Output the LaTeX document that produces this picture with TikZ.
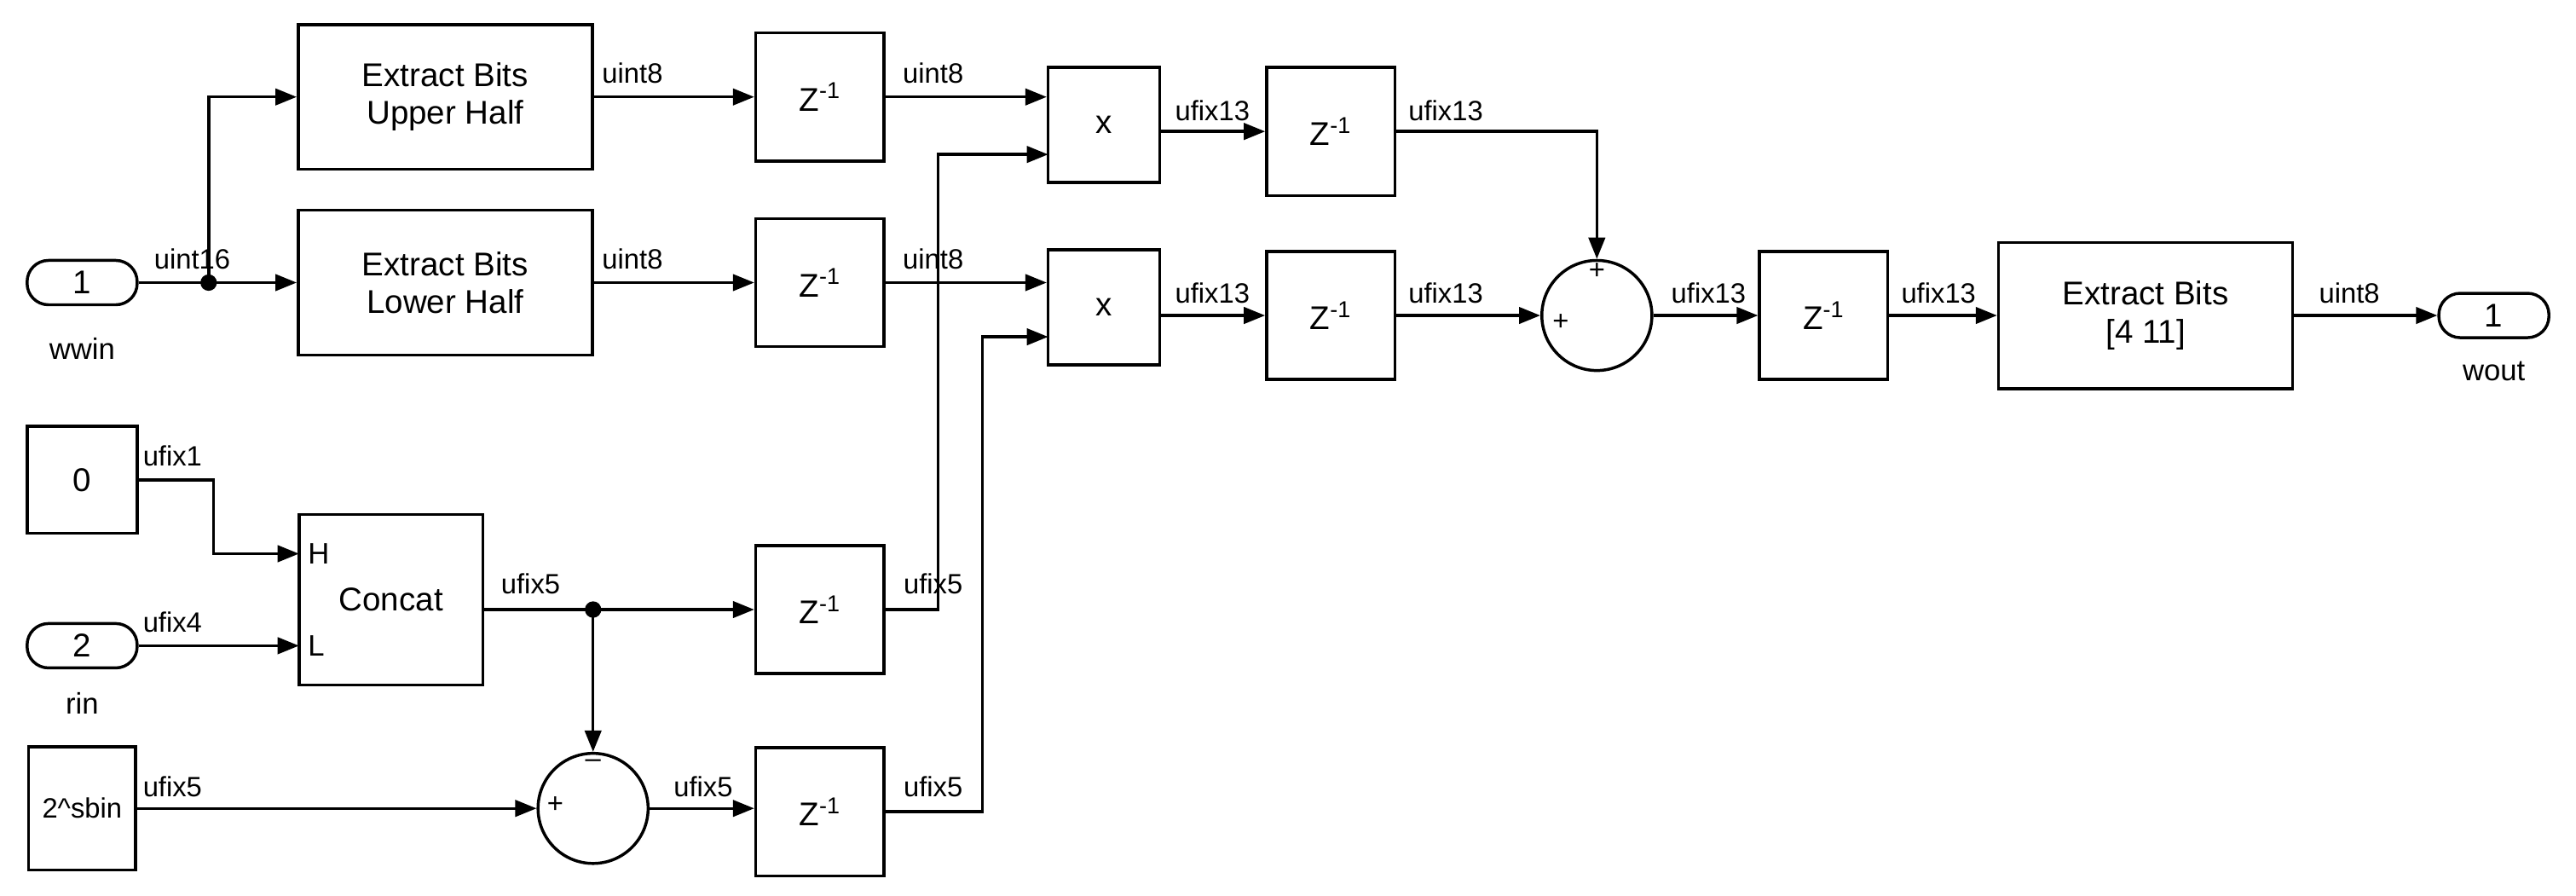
\documentclass[tikz,border=0pt]{standalone}
\usepackage{fontspec}
\setmainfont{Liberation Sans}
\usetikzlibrary{arrows.meta,positioning}

\begin{document}
\begin{tikzpicture}[x=1pt,y=-1pt,
blk/.style={rectangle, draw, line width=1.8pt, font=\fontsize{20}{23}\selectfont, align=center, inner sep=0pt},
port/.style={rectangle, rounded corners=13pt, draw, line width=1.8pt, minimum width=67pt, minimum height=27pt, font=\fontsize{20}{23}\selectfont, inner sep=0pt},
circ/.style={circle, draw, line width=1.8pt, minimum size=67pt, inner sep=0pt},
sig/.style={font=\fontsize{17}{19}\selectfont, inner sep=1pt, anchor=south},
wire/.style={line width=1.8pt, -{Triangle[length=13pt,width=10pt]}},
]
\useasboundingbox (0,0) rectangle (1568,545);
\tikzset{zbox/.style={blk, minimum width=78pt, minimum height=78pt}}
%Nodes
\node[port](wwin) at (50,172){1};
\node[font=\fontsize{18}{20}\selectfont] at (50,212){wwin};
\node[blk, minimum width=179pt, minimum height=88pt](upper) at (271,59){Extract Bits\\Upper Half};
\node[blk, minimum width=179pt, minimum height=88pt](lower) at (271,172){Extract Bits\\Lower Half};
\node[zbox](z1) at (499,59){Z\textsuperscript{-1}};
\node[zbox](z2) at (499,172){Z\textsuperscript{-1}};
\node[zbox](z3) at (499,371){Z\textsuperscript{-1}};
\node[zbox](z4) at (499,494){Z\textsuperscript{-1}};
\node[blk, minimum width=68pt, minimum height=70pt](m1) at (672,76){x};
\node[blk, minimum width=68pt, minimum height=70pt](m2) at (672,187){x};
\node[zbox](z5) at (810,80){Z\textsuperscript{-1}};
\node[zbox](z6) at (810,192){Z\textsuperscript{-1}};
\node[circ](sum) at (972,192){};
\node[font=\fontsize{17}{19}\selectfont] at (972,165){+};
\node[font=\fontsize{17}{19}\selectfont] at (950,196){+};
\node[zbox](z7) at (1110,192){Z\textsuperscript{-1}};
\node[blk, minimum width=179pt, minimum height=89pt](ext) at (1306,192){Extract Bits\\{}[4 11]};
\node[port](wout) at (1518,192){1};
\node[font=\fontsize{18}{20}\selectfont] at (1518,226){wout};
\node[blk, minimum width=67pt, minimum height=65pt](zero) at (50,292){0};
\node[port](rin) at (50,393){2};
\node[font=\fontsize{18}{20}\selectfont] at (50,428){rin};
\node[blk, minimum width=65pt, minimum height=75pt, font=\fontsize{17}{19}\selectfont](pow) at (50,492){2\^{}sbin};
\node[blk, minimum width=112pt, minimum height=104pt](concat) at (238,365){Concat};
\node[font=\fontsize{18}{20}\selectfont, anchor=west] at (184,337){H};
\node[font=\fontsize{18}{20}\selectfont, anchor=west] at (184,393){L};
\node[circ](sub) at (361,492){};
\node[font=\fontsize{17}{19}\selectfont] at (361,465){--};
\node[font=\fontsize{17}{19}\selectfont] at (338,490){+};
\coordinate (cH) at (182,337);
\coordinate (cL) at (182,393);
\coordinate (j1) at (127,172);
\coordinate (j2) at (361,371);

%Lines
\draw[wire] (wwin.east) -- (lower.west);
\draw[wire] (j1) |- (upper.west);
\fill (j1) circle (5pt);
\draw[wire] (upper.east) -- (z1.west);
\draw[wire] (lower.east) -- (z2.west);
\draw[wire] (z1.east) -- (m1.west |- z1.east);
\draw[wire] (z2.east) -- (m2.west |- z2.east);
\draw[wire] (z3.east) -- (571,371) |- (638,94);
\draw[wire] (z4.east) -- (598,494) |- (638,205);
\draw[wire] (m1.east |- z5.west) -- (z5.west);
\draw[wire] (m2.east |- z6.west) -- (z6.west);
\draw[wire] (z5.east) -| (sum.north);
\draw[wire] (z6.east) -- (sum.west);
\draw[wire] (sum.east) -- (z7.west);
\draw[wire] (z7.east) -- (ext.west);
\draw[wire] (ext.east) -- (wout.west);
\draw[wire] (zero.east) -- (130,292) |- (cH);
\draw[wire] (rin.east) -- (cL);
\draw[wire] (concat.east |- z3.west) -- (z3.west);
\draw[wire] (j2) -- (sub.north);
\fill (j2) circle (5pt);
\draw[wire] (pow.east |- sub.west) -- (sub.west);
\draw[wire] (sub.east) -- (z4.west |- sub.east);

%Signal labels
\node[sig] at (117,165){uint16};
\node[sig] at (385,52){uint8};
\node[sig] at (385,165){uint8};
\node[sig] at (568,52){uint8};
\node[sig] at (568,165){uint8};
\node[sig] at (738,75){ufix13};
\node[sig] at (738,186){ufix13};
\node[sig] at (880,75){ufix13};
\node[sig] at (880,186){ufix13};
\node[sig] at (1040,186){ufix13};
\node[sig] at (1180,186){ufix13};
\node[sig] at (1430,186){uint8};
\node[sig] at (105,285){ufix1};
\node[sig] at (105,386){ufix4};
\node[sig] at (323,363){ufix5};
\node[sig] at (568,363){ufix5};
\node[sig] at (105,486){ufix5};
\node[sig] at (428,486){ufix5};
\node[sig] at (568,486){ufix5};
\end{tikzpicture}
\end{document}
